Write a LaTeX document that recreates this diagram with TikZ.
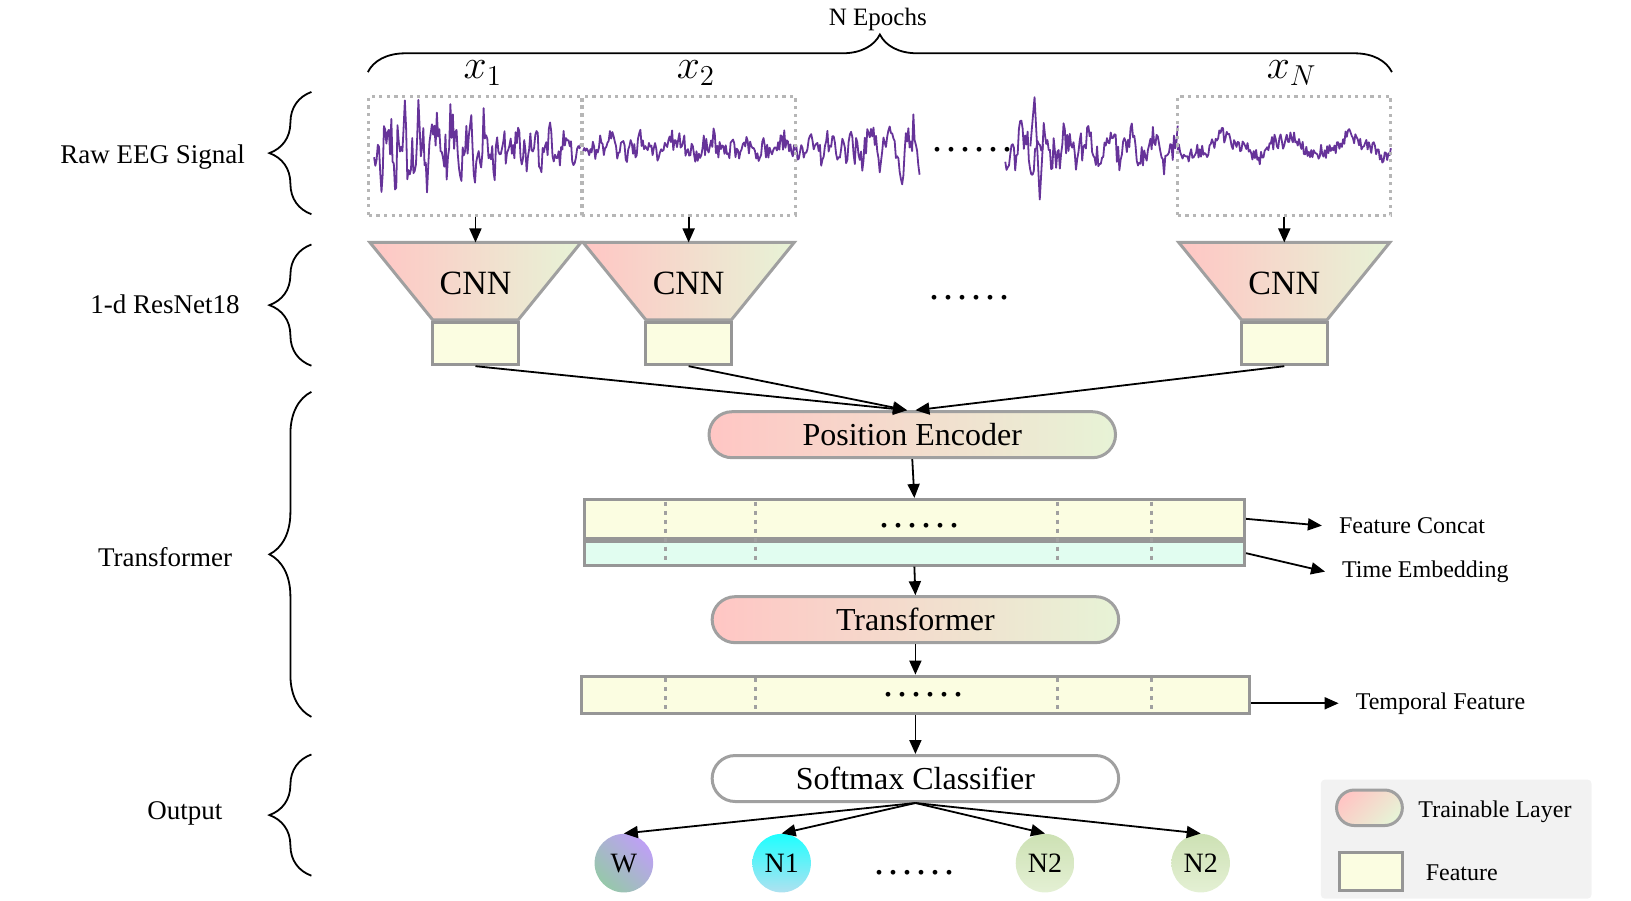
\documentclass[tikz,border=0pt]{standalone}
\usepackage{fontspec}
\setmainfont{Liberation Serif}
\usetikzlibrary{arrows.meta,decorations.pathreplacing,shapes.misc,calc}

\definecolor{eegpurple}{RGB}{102,51,153}
\definecolor{dotgray}{RGB}{182,182,182}
\definecolor{edgegray}{RGB}{160,160,160}
\definecolor{featgray}{RGB}{150,150,150}
\definecolor{pinkL}{RGB}{255,198,196}
\definecolor{greenL}{RGB}{231,243,214}
\definecolor{featyellow}{RGB}{251,253,225}
\definecolor{embcyan}{RGB}{225,253,240}
\definecolor{legendgray}{RGB}{242,242,242}

\newcommand{\px}{0.5225pt}
\newcommand{\sixdots}{.\kern2pt.\kern2pt.\kern2pt.\kern2pt.\kern2pt.}

\tikzset{
	arr/.style={-{Triangle[length=7pt,width=6pt]}, line width=0.9pt},
	lbl/.style={font=\fontsize{12}{14}\selectfont, inner sep=0pt},
	sidelbl/.style={font=\fontsize{13.5}{16}\selectfont, inner sep=0pt},
	dotsf/.style={font=\fontsize{20}{20}\selectfont, inner sep=0pt},
	brc/.style={decorate, decoration={brace, amplitude=#1}, line width=0.9pt},
	epochbox/.style={draw=dotgray, line width=1.6pt, dash pattern=on 1.6pt off 2.2pt, inner sep=0pt},
	eeg/.style={draw=eegpurple, line width=0.9pt, line join=round},
	trap/.style={draw=edgegray, line width=1.5pt, left color=pinkL, right color=greenL},
	pill/.style={rounded rectangle, draw=edgegray, line width=1.5pt, inner sep=0pt, font=\fontsize{16}{19}\selectfont, minimum width=389*\px, minimum height=44*\px},
	layer/.style={pill, left color=pinkL, right color=greenL},
	featbox/.style={draw=featgray, fill=featyellow, line width=1.5pt, inner sep=0pt},
	sep/.style={draw=edgegray, line width=1.5pt, dash pattern=on 2pt off 2.5pt},
	stage/.style={circle, minimum size=56*\px, inner sep=0pt, font=\fontsize{14}{16}\selectfont},
}

\begin{document}
\begin{tikzpicture}[x=\px, y=-\px]
	\useasboundingbox (0,0) rectangle (1560.8,862.2);
	\pgfmathsetseed{11}

	\node[lbl, font=\fontsize{12.5}{15}\selectfont] (epochs) at (840,19) {N Epochs};
	\draw[brc=18.8pt] (352,69) -- (1332,69);

	\node[sidelbl] (rawlbl) at (146,150) {Raw EEG Signal};
	\node[sidelbl] (reslbl) at (158,291) {1-d ResNet18};
	\node[sidelbl] (translbl) at (158,533) {Transformer};
	\node[sidelbl] (outlbl) at (177,778) {Output};
	\draw[brc=21pt] (298,205) -- (298,88);
	\draw[brc=21pt] (298,350) -- (298,234);
	\draw[brc=21pt] (298,686) -- (298,375);
	\draw[brc=21pt] (298,838) -- (298,722);

	\draw[eeg] plot[domain=0:199, samples=170] ({358+\x}, {142+(14+36*(1-\x/199))*(0.45*sin(23*\x)+0.3*sin(57*\x+30)+0.55*rand)});
	\draw[eeg] plot[domain=0:203, samples=175] ({558+\x}, {141+5*sin(11*\x)+4*sin(37*\x)+10*rand});
	\draw[eeg] plot[domain=0:118, samples=100] ({762+\x}, {142+(12+24*\x/118)*(0.45*sin(19*\x)+0.3*sin(47*\x)+0.55*rand)});
	\draw[eeg] plot[domain=0:165, samples=140] ({962+\x}, {142+26*(0.45*sin(17*\x)+0.3*sin(43*\x+50)+0.55*rand)});
	\draw[eeg] plot[domain=0:204, samples=175] ({1127+\x}, {140+8*sin(6*\x)+3*sin(15*\x)+7*rand});
	\draw[eeg] (986,140) -- (990,93) -- (993,150) -- (995,191) -- (998,138);
	\node[dotsf] (sigdots) at (931,143) {\sixdots};

	\foreach \cx/\nm/\lab in {455/a/x_1, 659/b/x_2, 1229/n/x_N} {
		\node[epochbox, minimum width=204*\px, minimum height=114*\px] (ep\nm) at (\cx,149) {};
		\node[font=\fontsize{20}{24}\selectfont] (lab\nm) at (\cx+7,70) {$\lab$};
		\draw[trap] (\cx-101,232) -- (\cx+101,232) -- (\cx+41,306) -- (\cx-41,306) -- cycle;
		\coordinate (top\nm) at (\cx,232);
		\node[font=\fontsize{17}{20}\selectfont] (cnn\nm) at (\cx,271) {CNN};
		\node[featbox, minimum width=82*\px, minimum height=40*\px] (f\nm) at (\cx,329) {};
		\draw[arr] (ep\nm.south) -- (top\nm);
	}
	\node[dotsf] (cnndots) at (928,285) {\sixdots};

	\node[layer] (pe) at (873,416) {Position Encoder};
	\draw[arr] (fa.south) -- ($(pe.north)+(-5,0)$);
	\draw[arr] (fb.south) -- ($(pe.north)+(-5,0)$);
	\draw[arr] (fn.south) -- ($(pe.north)+(3,0)$);

	\node[featbox, minimum width=632*\px, minimum height=37*\px] (concat) at (875,496.5) {};
	\node[featbox, fill=embcyan, minimum width=632*\px, minimum height=23*\px, anchor=north] (embed) at (concat.south) {};
	\foreach \sx in {637,723,1012,1102} \draw[sep] (\sx,480) -- (\sx,537);
	\node[dotsf] (catdots) at (880,503) {\sixdots};
	\draw[arr] (pe.south) -- (concat.north);
	\node[lbl, anchor=west] (fclbl) at (1281,503) {Feature Concat};
	\node[lbl, anchor=west] (telbl) at (1284,547) {Time Embedding};
	\draw[arr] (concat.east) -- ($(fclbl.west)+(-16,0)$);
	\draw[arr] (embed.east) -- ($(telbl.west)+(-16,0)$);

	\node[layer] (trans) at (876,593) {Transformer};
	\draw[arr] (embed.south) -- (trans.north);

	\node[featbox, minimum width=639*\px, minimum height=36*\px] (temp) at (876,665) {};
	\foreach \sx in {637,723,1012,1102} \draw[sep] (\sx,649) -- (\sx,681);
	\node[dotsf] (tempdots) at (884,665) {\sixdots};
	\draw[arr] (trans.south) -- (temp.north);
	\node[lbl, anchor=west] (tflbl) at (1297,673) {Temporal Feature};
	\draw[arr] (temp.east |- tflbl.west) -- ($(tflbl.west)+(-16,0)$);

	\node[pill, fill=white] (soft) at (876,745) {Softmax Classifier};
	\draw[arr] (temp.south) -- (soft.north);

	\node[stage, top color={rgb,255:red,190;green,160;blue,245}, bottom color={rgb,255:red,150;green,200;blue,170}, shading angle=-45] (w) at (597,826) {W};
	\node[stage, top color={rgb,255:red,30;green,255;blue,255}, bottom color={rgb,255:red,175;green,225;blue,240}] (n1) at (748,826) {N1};
	\node[stage, top color={rgb,255:red,205;green,225;blue,180}, bottom color={rgb,255:red,228;green,240;blue,212}] (n2a) at (1000,826) {N2};
	\node[stage, top color={rgb,255:red,205;green,225;blue,180}, bottom color={rgb,255:red,228;green,240;blue,212}] (n2b) at (1149,826) {N2};
	\node[dotsf] (outdots) at (875,835) {\sixdots};
	\foreach \o in {w,n1,n2a,n2b} \draw[arr] (soft.south) -- (\o.north);

	\node[fill=legendgray, rounded corners=2pt, minimum width=259*\px, minimum height=114*\px] (legend) at (1393.5,803) {};
	\node[pill, top color=pinkL, bottom color=greenL, shading angle=45, minimum width=63*\px, minimum height=34*\px] (legtrain) at (1310.5,773) {};
	\node[lbl, anchor=west] (legtraintxt) at (1357,777) {Trainable Layer};
	\node[featbox, minimum width=60*\px, minimum height=36*\px] (legfeat) at (1312,834) {};
	\node[lbl, anchor=west] (legfeattxt) at (1364,835) {Feature};
\end{tikzpicture}
\end{document}
